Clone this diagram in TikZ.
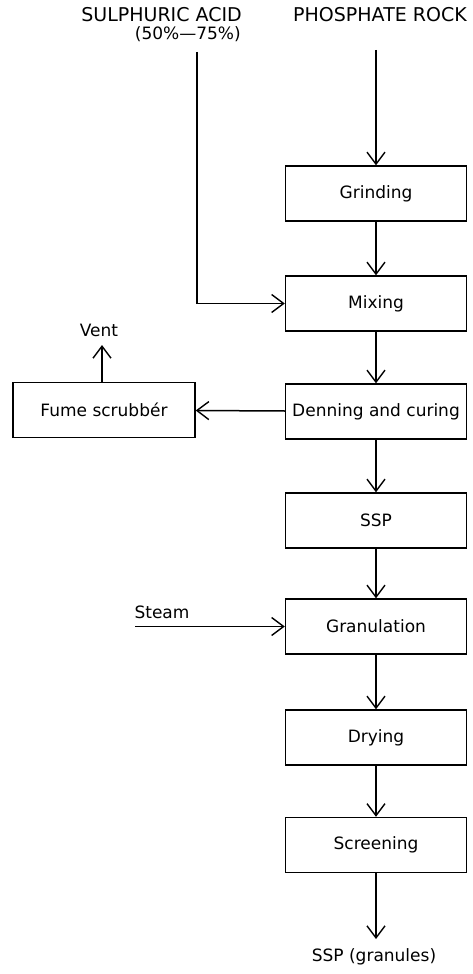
\documentclass[tikz,border=0pt]{standalone}
\usepackage{fontspec}
\setmainfont{DejaVu Sans}
\usetikzlibrary{arrows.meta}
\begin{document}
\begin{tikzpicture}[x=1pt,y=-1pt,
  procbox/.style={draw, line width=1.4pt, minimum width=181pt, minimum height=55pt,
                  inner sep=0pt, font=\fontsize{17}{20}\selectfont},
  flow/.style={line width=1.5pt, -{Straight Barb[length=12pt,width=18pt,line width=1.4pt]}},
  lbl/.style={inner sep=0pt, font=\fontsize{17}{20}\selectfont},
  toplbl/.style={inner sep=0pt, font=\fontsize{19}{22}\selectfont}]
\useasboundingbox (0,0) rectangle (472,974);

% process boxes
\node[procbox] (grind) at (376,193.5) {Grinding};
\node[procbox] (mix)   at (376,303.5) {Mixing};
\node[procbox] (den)   at (376,411.5) {Denning and curing};
\node[procbox] (ssp)   at (376,520.5) {SSP};
\node[procbox] (gran)  at (376,626.5) {Granulation};
\node[procbox] (dry)   at (376,737.5) {Drying};
\node[procbox] (scr)   at (376,845)   {Screening};
\node[procbox, minimum width=182pt] (fume) at (104,410) {Fume scrubbér};

% feed labels
\node[toplbl, anchor=east] (acid) at (242,15) {SULPHURIC ACID};
\node[lbl, anchor=east] (conc) at (241,34) {(50\%---75\%)};
\node[toplbl] (rock) at (380,15) {PHOSPHATE ROCK};
\node[lbl] (vent) at (99,330) {Vent};
\node[lbl] (steam) at (162,612) {Steam};
\node[lbl] (prod) at (374,957) {SSP (granules)};

% free line ends
\coordinate (acidtop) at (197,52);
\coordinate (rocktop) at (376,50);
\coordinate (venttip) at (102,345);
\coordinate (steamin) at (135,626.5);
\coordinate (prodtip) at (376,939);

% connectors
\draw[flow] (rocktop) -- (grind.north);
\draw[flow] (acidtop) |- (mix.west);
\draw[flow] (grind) -- (mix);
\draw[flow] (mix) -- (den);
\draw[flow] (den) -- (fume);
\draw[flow] (fume.north -| venttip) -- (venttip);
\draw[flow] (den) -- (ssp);
\draw[flow] (ssp) -- (gran);
\draw[flow] (steamin) -- (gran.west);
\draw[flow] (gran) -- (dry);
\draw[flow] (dry) -- (scr);
\draw[flow] (scr.south) -- (prodtip);
\end{tikzpicture}
\end{document}
